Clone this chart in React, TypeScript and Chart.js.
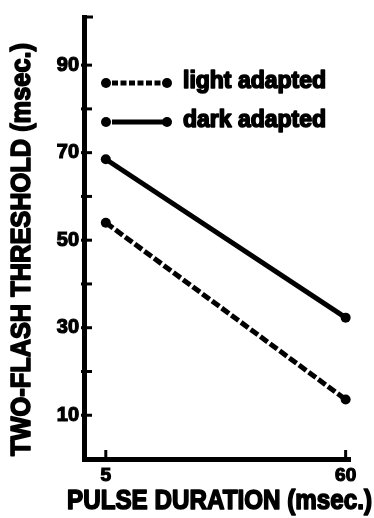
import { useEffect, useRef } from 'react';
import { Chart, registerables } from 'chart.js';

Chart.register(...registerables);

// Pulse duration (msec.) at which the threshold was measured
const durations = [5, 60];
// Two-flash threshold (msec.)
const lightAdapted = [54, 13.6];
const darkAdapted = [68.5, 32.3];

const seriesNames = ['light adapted', 'dark adapted'];
const yTickValues = [0, 10, 20, 30, 40, 50, 60, 70, 80, 90];
const yLabelledTicks = [10, 30, 50, 70, 90];
const xTickValues = [5, 60];

const xTitle = 'PULSE DURATION (msec.)';
const yTitle = 'TWO-FLASH THRESHOLD (msec.)';

const INK = '#000';
const TEXT_FONT = '"Liberation Sans", Arial, sans-serif';

// Draws heavy text squeezed horizontally to a given width (condensed look).
function drawFitted(
  ctx: CanvasRenderingContext2D,
  text: string,
  size: number,
  width: number
) {
  ctx.font = `bold ${size}px ${TEXT_FONT}`;
  const w = ctx.measureText(text).width;
  ctx.save();
  ctx.scale(width / w, 1);
  ctx.textAlign = 'left';
  ctx.textBaseline = 'middle';
  ctx.fillStyle = INK;
  ctx.strokeStyle = INK;
  ctx.lineWidth = 1.6;
  ctx.lineJoin = 'round';
  ctx.setLineDash([]);
  ctx.fillText(text, 0, 0);
  ctx.strokeText(text, 0, 0);
  ctx.restore();
}

const decorPlugin = {
  id: 'decor',
  afterDraw(chart: any) {
    const { ctx, chartArea, scales } = chart;
    const x = scales.x;
    const y = scales.y;
    ctx.save();
    ctx.strokeStyle = INK;
    ctx.lineCap = 'butt';

    // y tick marks crossing the axis
    ctx.lineWidth = 3;
    yTickValues.forEach((v) => {
      if (v === 0) return;
      const py = y.getPixelForValue(v);
      ctx.beginPath();
      ctx.moveTo(chartArea.left - 3, py);
      ctx.lineTo(chartArea.left + 8, py);
      ctx.stroke();
    });
    // cap at the top of the y axis
    ctx.beginPath();
    ctx.moveTo(chartArea.left - 2, chartArea.top);
    ctx.lineTo(chartArea.left + 9, chartArea.top);
    ctx.stroke();

    // x tick marks pointing up from the baseline
    xTickValues.forEach((v) => {
      const px = x.getPixelForValue(v);
      ctx.beginPath();
      ctx.moveTo(px, chartArea.bottom + 2);
      ctx.lineTo(px, chartArea.bottom - 9);
      ctx.stroke();
    });

    // legend
    chart.data.datasets.forEach((ds: any, i: number) => {
      const ly = chartArea.top + 66 + i * 39;
      const x0 = chartArea.left + 22;
      const x1 = chartArea.left + 83;
      ctx.lineWidth = ds.borderWidth;
      ctx.setLineDash(ds.borderDash ? [6, 2.5] : []);
      ctx.beginPath();
      ctx.moveTo(x0 + 6, ly);
      ctx.lineTo(x1 - 4, ly);
      ctx.stroke();
      ctx.setLineDash([]);
      ctx.fillStyle = INK;
      [x0, x1].forEach((px) => {
        ctx.beginPath();
        ctx.arc(px, ly, ds.pointRadius, 0, Math.PI * 2);
        ctx.fill();
      });
      ctx.save();
      ctx.translate(chartArea.left + 99, ly - 1);
      drawFitted(ctx, ds.label, 23, 143);
      ctx.restore();
    });

    // axis titles
    ctx.save();
    ctx.translate(67, 502);
    drawFitted(ctx, xTitle, 27, 305);
    ctx.restore();

    ctx.save();
    ctx.translate(23, 456);
    ctx.rotate(-Math.PI / 2);
    drawFitted(ctx, yTitle, 27, 413);
    ctx.restore();

    ctx.restore();
  },
};

export default function App() {
  const canvasRef = useRef<HTMLCanvasElement | null>(null);

  useEffect(() => {
    const canvas = canvasRef.current;
    if (!canvas) return;
    const toPoints = (vals: number[]) => durations.map((d, i) => ({ x: d, y: vals[i] }));

    const chart = new Chart(canvas, {
      type: 'scatter',
      data: {
        datasets: [
          {
            label: seriesNames[0],
            data: toPoints(lightAdapted),
            showLine: true,
            borderColor: INK,
            backgroundColor: INK,
            borderWidth: 5,
            borderDash: [9, 3],
            pointRadius: 5,
            pointBorderWidth: 0,
            pointBackgroundColor: INK,
            clip: false,
          },
          {
            label: seriesNames[1],
            data: toPoints(darkAdapted),
            showLine: true,
            borderColor: INK,
            backgroundColor: INK,
            borderWidth: 5,
            pointRadius: 5,
            pointBorderWidth: 0,
            pointBackgroundColor: INK,
            clip: false,
          },
        ],
      },
      options: {
        responsive: false,
        animation: false,
        layout: { padding: { top: 11, right: 24, left: 0, bottom: 0 } },
        plugins: {
          legend: { display: false },
          tooltip: { enabled: false },
          title: { display: false },
        },
        scales: {
          x: {
            type: 'linear',
            min: 0,
            max: 61,
            afterFit: (s: any) => {
              s.height = 59;
            },
            afterBuildTicks: (s: any) => {
              s.ticks = xTickValues.map((v) => ({ value: v }));
            },
            border: { display: true, color: INK, width: 5 },
            grid: { display: false, drawTicks: false },
            ticks: {
              color: INK,
              padding: 5,
              maxRotation: 0,
              autoSkip: false,
              textStrokeColor: INK,
              textStrokeWidth: 1.2,
              font: { family: TEXT_FONT, size: 19, weight: 'bold' },
            },
          },
          y: {
            type: 'linear',
            min: 0,
            max: 101,
            afterFit: (s: any) => {
              s.width = 84;
            },
            afterBuildTicks: (s: any) => {
              s.ticks = yTickValues.map((v) => ({ value: v }));
            },
            border: { display: true, color: INK, width: 5 },
            grid: { display: false, drawTicks: false },
            ticks: {
              color: INK,
              padding: 5,
              autoSkip: false,
              textStrokeColor: INK,
              textStrokeWidth: 1.2,
              font: { family: TEXT_FONT, size: 20, weight: 'bold' },
              callback: (v: any) => (yLabelledTicks.includes(Number(v)) ? String(v) : ''),
            },
          },
        },
      },
      plugins: [decorPlugin],
    } as any);

    return () => chart.destroy();
  }, []);

  return (
    <div style={{ position: 'fixed', left: 0, top: 0, width: 374, height: 518, background: '#fff' }}>
      <canvas ref={canvasRef} width={374} height={518} style={{ width: 374, height: 518 }} />
    </div>
  );
}
